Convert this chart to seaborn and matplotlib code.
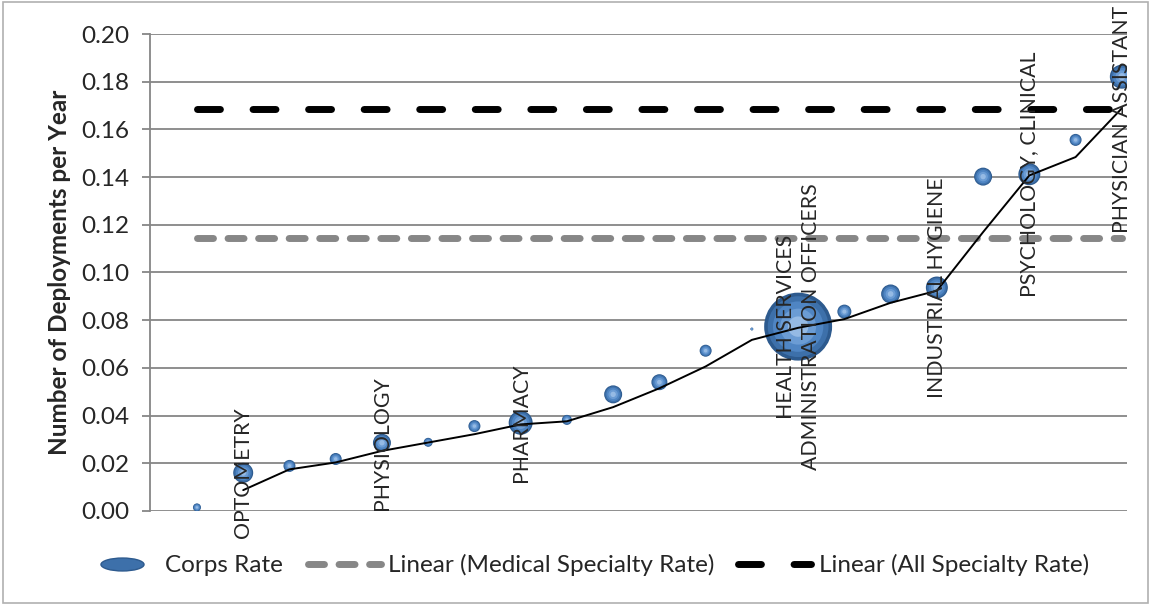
import numpy as np
import pandas as pd
import seaborn as sns
import matplotlib
matplotlib.use("Agg")
import matplotlib.pyplot as plt
from matplotlib.lines import Line2D
from matplotlib.path import Path
from matplotlib.transforms import Affine2D
from matplotlib.patches import Rectangle

# ---------------- data ----------------
specialty_index = list(range(1, 22))
corps_rate = [0.0015, 0.0160, 0.0189, 0.0218, 0.0286, 0.0288, 0.0356, 0.0370,
              0.0382, 0.0489, 0.0540, 0.0672, 0.0763, 0.0773, 0.0836, 0.0910,
              0.0937, 0.1402, 0.1412, 0.1556, 0.1821]
corps_size = [16, 100, 36, 36, 81, 20, 36, 144, 25, 81, 64, 36, 2, 1156,
              49, 90, 121, 81, 121, 36, 144]
label_index = [2, 5, 8, 14, 17, 19, 21]
label_text = ["OPTOMETRY", "PHYSIOLOGY", "PHARMACY",
              "HEALTH SERVICES\nADMINISTRATION OFFICERS",
              "INDUSTRIAL HYGIENE", "PSYCHOLOGY, CLINICAL", "PHYSICIAN ASSISTANT"]
medical_specialty_rate = 0.1145
all_specialty_rate = 0.1685
y_ticks = [0.00, 0.02, 0.04, 0.06, 0.08, 0.10, 0.12, 0.14, 0.16, 0.18, 0.20]
y_label = "Number of Deployments per Year"
legend_labels = ["Corps Rate", "Linear (Medical Specialty Rate)", "Linear (All Specialty Rate)"]

df = pd.DataFrame({"idx": specialty_index, "rate": corps_rate, "size": corps_size})
df["trend"] = df["rate"].rolling(2).mean()

# ---------------- style ----------------
sns.set_style("white")
plt.rcParams["font.family"] = ["Lato", "DejaVu Sans"]
plt.rcParams["font.size"] = 15

fig = plt.figure(figsize=(11.51, 6.05), dpi=100)
ax = fig.add_axes([0.1303, 0.1554, 0.979 - 0.1303, 0.9438 - 0.1554])

grid_c = "#868686"
ax.set_ylim(0, 0.20)
ax.set_xlim(-0.016, 21.108)
ax.set_yticks(y_ticks)
ax.set_yticklabels([f"{v:.2f}" for v in y_ticks])
ax.set_xticks([])
ax.yaxis.grid(True, color=grid_c, lw=1.3)
ax.set_axisbelow(True)
for s in ["top", "right", "bottom"]:
    ax.spines[s].set_visible(False)
ax.spines["left"].set_color(grid_c)
ax.spines["left"].set_linewidth(1.3)
ax.tick_params(axis="y", direction="out", length=6, width=1.3, color=grid_c,
               pad=9, labelsize=17.5, left=True)

# horizontal "linear" reference lines
xr = [specialty_index[0], specialty_index[-1]]
gray_line, = ax.plot(xr, [medical_specialty_rate] * 2, color="#878787", lw=5,
                     dash_capstyle="round", solid_capstyle="round", zorder=2)
gray_line.set_dashes([2.3, 2.1])
black_line, = ax.plot(xr, [all_specialty_rate] * 2, color="black", lw=5,
                      dash_capstyle="round", zorder=2)
black_line.set_dashes([3.3, 4.7])

# bubbles (layered for a spherical look)
smax = 2.07 * max(corps_size)
layers = [(1.0, "#2d5a8e"), (0.8, "#3d70aa"), (0.55, "#4f85c3"), (0.28, "#6b9cd4"), (0.09, "#95bae4")]
for frac, col in layers:
    sns.scatterplot(data=df, x="idx", y="rate", size="size",
                    sizes=(0, smax * frac), size_norm=(0, max(corps_size)),
                    color=col, edgecolor="none", linewidth=0, legend=False,
                    ax=ax, zorder=3)

# moving-average trend line
sns.lineplot(data=df.dropna(), x="idx", y="trend", color="black", lw=1.4, ax=ax,
             zorder=4)
ax.set_xlabel("")
ax.set_ylabel(y_label, fontsize=17.5, fontweight="bold", labelpad=7)

# data labels
for i, txt in zip(label_index, label_text):
    yv = corps_rate[i - 1]
    offset = -31 if i == label_index[-1] else 0
    ax.annotate(txt, (i, yv), xytext=(0, offset), textcoords="offset points",
                rotation=90, ha="center", va="center", multialignment="center",
                fontsize=15.3, linespacing=1.3, zorder=5, annotation_clip=False)

# legend
ell = Path.unit_circle().transformed(Affine2D().scale(1, 0.3))
h1 = Line2D([], [], ls="none", marker=ell, markersize=31, color="#3d70aa",
            markeredgecolor="#2d5a8e")
h2 = Line2D([], [], color="#878787", lw=5, dash_capstyle="round", dashes=[2.3, 2.1])
h3 = Line2D([], [], color="black", lw=5, dash_capstyle="round", dashes=[3.3, 4.7])
fig.legend([h1, h2, h3], legend_labels, loc="center", ncol=3, frameon=False,
           bbox_to_anchor=(0.51, 0.066), bbox_transform=fig.transFigure,
           fontsize=17.5, handlelength=3.0, handletextpad=0.3, columnspacing=1.0)

fig.patches.append(Rectangle((0.003, 0.004), 0.994, 0.992, transform=fig.transFigure,
                             fill=False, edgecolor="#b0b0b0", lw=1.2))

fig.savefig("out.png", dpi=100, facecolor="white")
